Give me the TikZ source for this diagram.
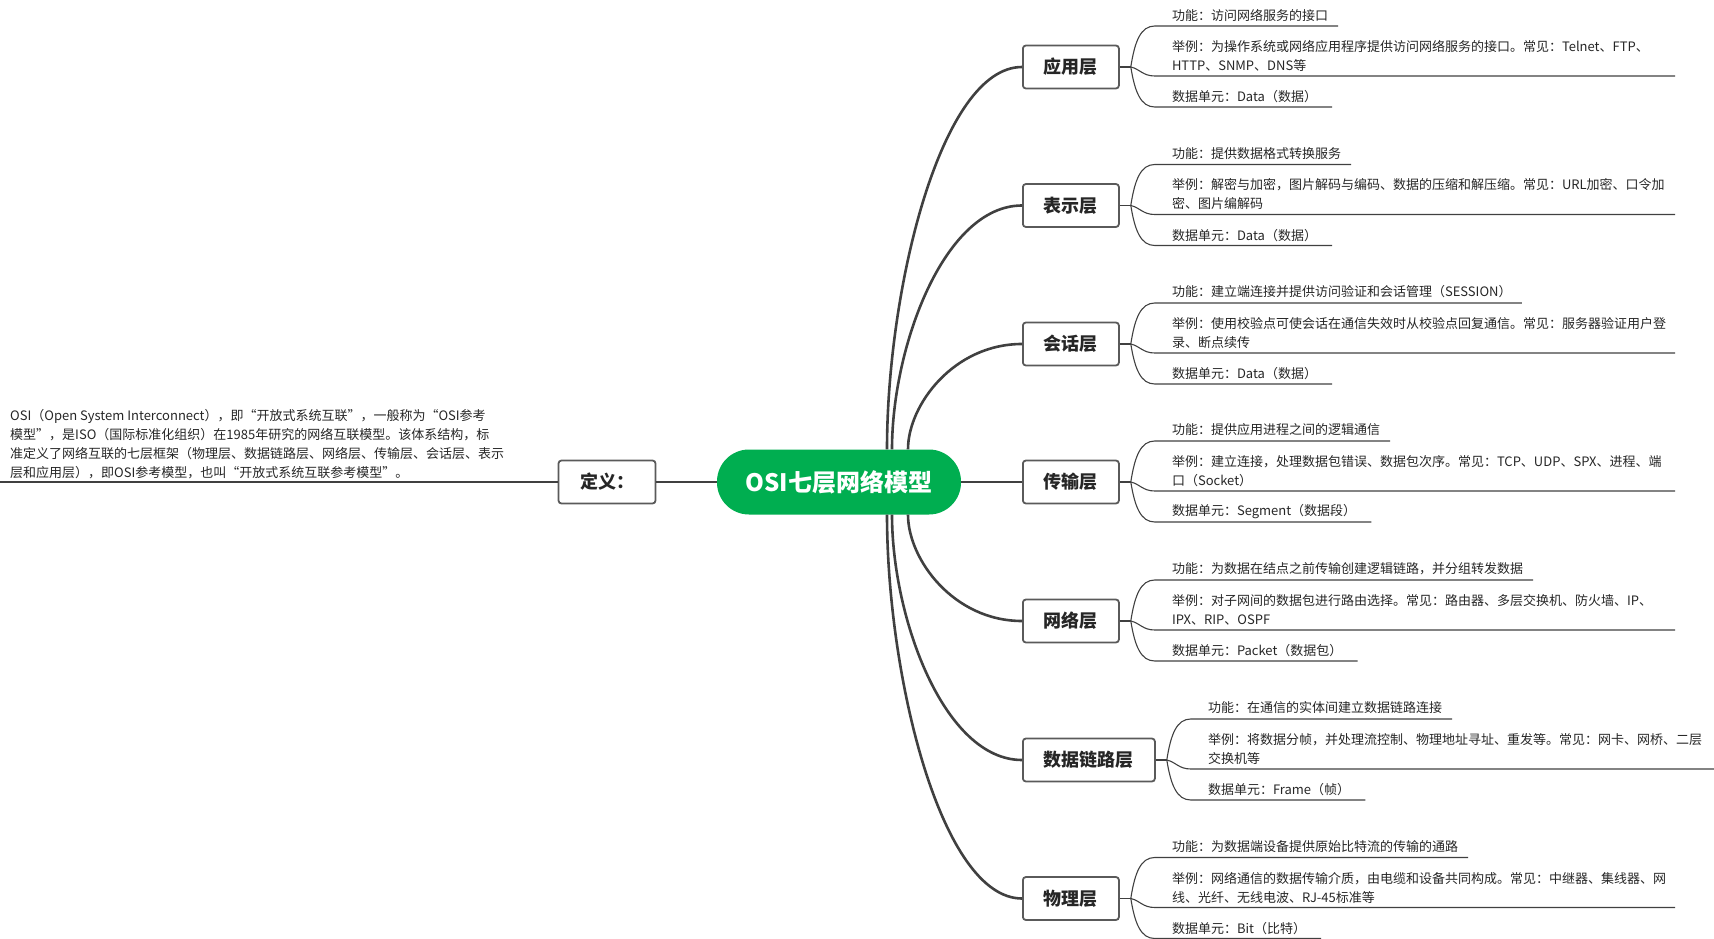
\documentclass[tikz,border=0pt]{standalone}
\usepackage{fontspec}
\setmainfont{Noto Sans CJK SC}
\usepackage{xcolor}
\usetikzlibrary{calc, positioning}

\definecolor{hubgreen}{HTML}{00AE50}
\definecolor{boxgray}{HTML}{5A5A5A}
\definecolor{wire}{HTML}{404040}
\definecolor{ink}{HTML}{262626}

% one layer: box, its three leaves and their underlines
\newcommand{\osilayer}[7]{%
  \node[layerbox] (#1) at (1022,#2) {#3};
  \coordinate (#1-b) at ($(#1.east)+(11,0)$);
  \node[leaf] (#1-f) at ($(#1-b)+(41,-52)$) {#4};
  \node[leaf] (#1-e) at ($(#1-b)+(41,-11)$) {#5};
  \node[leaf] (#1-u) at ($(#1-b)+(41,30)$) {#6};
  \draw[twig] (#1.east) -- (#1-b);
  \draw[twig] (#1-b) .. controls +(4,-26) and +(-14,0) .. ($(#1-b)+(24,-41)$) -- ($(#1-f.east)+(10,11)$);
  \draw[twig] (#1-b) .. controls +(9,2) and +(-12,0) .. ($(#1-b)+(24,9)$) -- (#7,#2+9);
  \draw[twig] (#1-b) .. controls +(4,25) and +(-14,0) .. ($(#1-b)+(24,40)$) -- ($(#1-u.east)+(15,10)$);
}

\begin{document}
\begin{tikzpicture}[
    x=1pt, y=-1pt,
    hub/.style={fill=hubgreen, text=white, rounded corners=32pt, minimum width=244pt,
        minimum height=65pt, font=\fontsize{24}{26}\selectfont\bfseries},
    layerbox/.style={draw=boxgray, line width=1.8pt, rounded corners=3pt, fill=white, text=ink,
        minimum height=43pt, inner xsep=21pt, anchor=west, font=\fontsize{18}{20}\selectfont\bfseries},
    leaf/.style={anchor=west, inner sep=0pt, align=left, text=ink,
        font=\fontsize{13}{19}\selectfont},
    deftext/.style={anchor=west, inner sep=0pt, align=left, text=ink,
        font=\fontsize{13}{19}\selectfont},
    limb/.style={draw=wire, line width=2.6pt},
    twig/.style={draw=wire, line width=1.1pt}
]
\useasboundingbox (0,0) rectangle (1714,939);

\node[hub] (hub) at (839,482) {OSI七层网络模型};

% definition branch
\node[layerbox, anchor=center, minimum width=97pt] (def) at (607,482) {定义：};
\node[deftext] (deftext) at (10,444) {OSI（Open System Interconnect），即“开放式系统互联”，一般称为“OSI参考\\模型”，是ISO（国际标准化组织）在1985年研究的网络互联模型。该体系结构，标\\准定义了网络互联的七层框架（物理层、数据链路层、网络层、传输层、会话层、表示\\层和应用层），即OSI参考模型，也叫“开放式系统互联参考模型”。};
\coordinate (defend) at (0,482);
\draw[limb] (hub.west) -- (def.east);
\draw[twig] (def.west) -- (defend);

% the seven layers
\osilayer{app}{67}{应用层}{功能：访问网络服务的接口}{举例：为操作系统或网络应用程序提供访问网络服务的接口。常见：Telnet、FTP、\\HTTP、SNMP、DNS等}{数据单元：Data（数据）}{1675}
\osilayer{pre}{205.5}{表示层}{功能：提供数据格式转换服务}{举例：解密与加密，图片解码与编码、数据的压缩和解压缩。常见：URL加密、口令加\\密、图片编解码}{数据单元：Data（数据）}{1675}
\osilayer{ses}{344}{会话层}{功能：建立端连接并提供访问验证和会话管理（SESSION）}{举例：使用校验点可使会话在通信失效时从校验点回复通信。常见：服务器验证用户登\\录、断点续传}{数据单元：Data（数据）}{1675}
\osilayer{tra}{482}{传输层}{功能：提供应用进程之间的逻辑通信}{举例：建立连接，处理数据包错误、数据包次序。常见：TCP、UDP、SPX、进程、端\\口（Socket）}{数据单元：Segment（数据段）}{1675}
\osilayer{net}{621}{网络层}{功能：为数据在结点之前传输创建逻辑链路，并分组转发数据}{举例：对子网间的数据包进行路由选择。常见：路由器、多层交换机、防火墙、IP、\\IPX、RIP、OSPF}{数据单元：Packet（数据包）}{1675}
\osilayer{dat}{760}{数据链路层}{功能：在通信的实体间建立数据链路连接}{举例：将数据分帧，并处理流控制、物理地址寻址、重发等。常见：网卡、网桥、二层\\交换机等}{数据单元：Frame（帧）}{1714}
\osilayer{phy}{898.5}{物理层}{功能：为数据端设备提供原始比特流的传输的通路}{举例：网络通信的数据传输介质，由电缆和设备共同构成。常见：中继器、集线器、网\\线、光纤、无线电波、RJ-45标准等}{数据单元：Bit（比特）}{1675}

% hub to layers
\coordinate (s1) at ([xshift=48pt]hub.north);
\coordinate (s2) at ([xshift=53pt]hub.north);
\coordinate (s3) at ([xshift=69pt]hub.north);
\coordinate (s5) at ([xshift=69pt]hub.south);
\coordinate (s6) at ([xshift=53pt]hub.south);
\coordinate (s7) at ([xshift=48pt]hub.south);
\draw[limb] (s1) .. controls ($(s1)!0.42!(s1 |- app.west)$) and ($(s1 |- app.west)!0.4!(app.west)$) .. (app.west);
\draw[limb] (s2) .. controls ($(s2)!0.42!(s2 |- pre.west)$) and ($(s2 |- pre.west)!0.4!(pre.west)$) .. (pre.west);
\draw[limb] (s3) .. controls ($(s3)!0.42!(s3 |- ses.west)$) and ($(s3 |- ses.west)!0.4!(ses.west)$) .. (ses.west);
\draw[limb] (hub.east) -- (tra.west);
\draw[limb] (s5) .. controls ($(s5)!0.42!(s5 |- net.west)$) and ($(s5 |- net.west)!0.4!(net.west)$) .. (net.west);
\draw[limb] (s6) .. controls ($(s6)!0.42!(s6 |- dat.west)$) and ($(s6 |- dat.west)!0.4!(dat.west)$) .. (dat.west);
\draw[limb] (s7) .. controls ($(s7)!0.42!(s7 |- phy.west)$) and ($(s7 |- phy.west)!0.4!(phy.west)$) .. (phy.west);

\end{tikzpicture}
\end{document}
